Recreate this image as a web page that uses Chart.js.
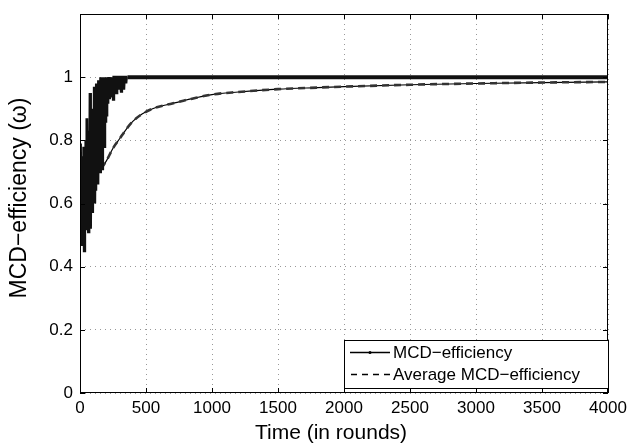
<!DOCTYPE html>
<html><head><meta charset="utf-8">
<script src="https://cdn.jsdelivr.net/npm/chart.js@4/dist/chart.umd.min.js"></script>
<style>html,body{margin:0;padding:0;background:#fff}#c{display:block}</style>
</head><body>
<canvas id="c" width="628" height="446"></canvas>
<script>
const xTicks = [0,500,1000,1500,2000,2500,3000,3500,4000];
const yTicks = [0,0.2,0.4,0.6,0.8,1];
const seriesNames = ["MCD\u2212efficiency","Average MCD\u2212efficiency"];

const effTimes = [0,4,8,12,16,20,24,28,32,36,40,44,48,
 52,56,60,64,68,72,76,80,84,88,92,96,
 100,104,108,112,116,120,124,128,132,136,140,144,148,
 152,156,160,164,168,172,176,180,184,188,192,196,200,
 204,208,212,216,220,224,228,232,236,240,244,248,252,
 256,260,264,268,272,276,280,284,288,292,296,300,304,
 308,312,316,320,324,328,332,336,340,344,348,352,356,360,4000];
const effValues = [0.62,0.79,0.50,0.75,0.47,0.70,0.55,0.78,0.45,0.68,0.52,0.80,0.58,
 0.87,0.53,0.74,0.51,0.83,0.60,0.95,0.52,0.78,0.62,0.90,0.57,
 0.85,0.66,0.97,0.60,0.88,0.64,0.98,0.70,0.92,0.66,0.99,0.72,0.95,
 0.70,1.0,0.75,0.97,0.71,1.0,0.82,0.99,0.78,1.0,0.86,1.0,0.88,
 1.0,0.92,1.0,0.95,1.0,0.93,1.0,1.0,0.94,1.0,0.96,1.0,0.93,
 1.0,1.0,0.97,1.0,1.0,0.95,1.0,1.0,0.98,1.0,1.0,0.96,1.0,
 1.0,0.955,1.0,1.0,0.97,1.0,0.96,1.0,1.0,1.0,0.98,1.0,1.0,1.0,1.0];

const avgTimes = [0,20,50,100,150,200,250,300,350,400,470,550,650,750,850,1000,1200,1500,1800,2000,2500,3000,3500,4000];
const avgValues = [0.62,0.64,0.66,0.68,0.705,0.735,0.775,0.805,0.835,0.86,0.883,0.90,0.912,0.922,0.932,0.945,0.953,0.962,0.967,0.970,0.976,0.980,0.983,0.985];

const effPts = effTimes.map((t,i)=>({x:t,y:effValues[i]}));
const avgPts = avgTimes.map((t,i)=>({x:t,y:avgValues[i]}));

const FONT = '"Liberation Sans", Arial, Helvetica, sans-serif';

const deco = {
  id:'deco',
  afterDraw(chart){
    const {ctx, chartArea:a, scales} = chart;
    ctx.save();
    ctx.strokeStyle='#000'; ctx.lineWidth=1;
    ctx.strokeRect(a.left+0.5, a.top+0.5, a.right-a.left-1, a.bottom-a.top-1);
    ctx.beginPath();
    xTicks.forEach(v=>{const px=Math.round(scales.x.getPixelForValue(v))+0.5;
      ctx.moveTo(px,a.bottom); ctx.lineTo(px,a.bottom-5);
      ctx.moveTo(px,a.top); ctx.lineTo(px,a.top+5);});
    yTicks.forEach(v=>{const py=Math.round(scales.y.getPixelForValue(v))+0.5;
      ctx.moveTo(a.left,py); ctx.lineTo(a.left+5,py);
      ctx.moveTo(a.right,py); ctx.lineTo(a.right-5,py);});
    ctx.stroke();
    ctx.fillStyle='#000';
    ctx.font='21px '+FONT;
    ctx.textAlign='center'; ctx.textBaseline='middle';
    ctx.fillText('Time (in rounds)', 331, 433);
    ctx.save();
    ctx.font='23px '+FONT;
    ctx.translate(20,198);
    ctx.rotate(-Math.PI/2);
    ctx.fillText('MCD\u2212efficiency (\u03c9)',0,0);
    ctx.restore();
    // legend
    const lx=344, ly=340, lw=264, lh=48;
    ctx.fillStyle='#fff';
    ctx.fillRect(lx,ly,lw,lh);
    ctx.strokeStyle='#000'; ctx.lineWidth=1;
    ctx.strokeRect(lx+0.5,ly+0.5,lw,lh);
    ctx.lineWidth=1.5;
    ctx.beginPath(); ctx.moveTo(350,352.5); ctx.lineTo(390,352.5); ctx.stroke();
    ctx.beginPath(); ctx.arc(370,352.5,1.5,0,Math.PI*2); ctx.fillStyle='#000'; ctx.fill();
    ctx.setLineDash([6,5]);
    ctx.beginPath(); ctx.moveTo(351,374.5); ctx.lineTo(390,374.5); ctx.stroke();
    ctx.setLineDash([]);
    ctx.font='17px '+FONT; ctx.textAlign='left'; ctx.fillStyle='#000';
    ctx.fillText(seriesNames[0],393,353);
    ctx.fillText(seriesNames[1],393,375);
    ctx.restore();
  }
};

new Chart(document.getElementById('c'),{
  type:'line',
  data:{datasets:[
    {label:seriesNames[0], data:effPts, borderColor:'#111', borderWidth:2.8, pointRadius:0, tension:0,
     segment:{borderWidth:c=> c.p0.parsed.x>=360 ? 4 : 2.8}},
    {label:seriesNames[1], data:avgPts, borderColor:'#333', borderWidth:2.6, borderDash:[7,5], pointRadius:0, cubicInterpolationMode:'monotone'},
    {label:'avg-core', data:avgPts, borderColor:'#000', borderWidth:1.2, pointRadius:0, cubicInterpolationMode:'monotone'}
  ]},
  options:{
    responsive:false, animation:false, devicePixelRatio:1,
    layout:{padding:{left:0,right:20,top:14,bottom:0}},
    plugins:{legend:{display:false}, tooltip:{enabled:false}},
    scales:{
      x:{type:'linear', min:0, max:4000,
        afterBuildTicks(s){s.ticks = xTicks.map(v=>({value:v}));},
        afterFit(s){s.height=53; s.paddingRight=0; s.paddingLeft=0;},
        grid:{color:'#999', drawTicks:false},
        border:{display:false, dash:[1,4]},
        ticks:{font:{family:FONT,size:17}, color:'#000', padding:5, maxRotation:0,
          callback:v=>String(v)}},
      y:{type:'linear', min:0, max:1.2,
        afterBuildTicks(s){s.ticks = yTicks.map(v=>({value:v}));},
        afterFit(s){s.width=80; s.paddingTop=0; s.paddingBottom=0;},
        grid:{color:'#999', drawTicks:false},
        border:{display:false, dash:[1,4]},
        ticks:{font:{family:FONT,size:17}, color:'#000', padding:7,
          callback:v=>String(Math.round(v*10)/10)}}
    }
  },
  plugins:[deco]
});
</script>
</body></html>
